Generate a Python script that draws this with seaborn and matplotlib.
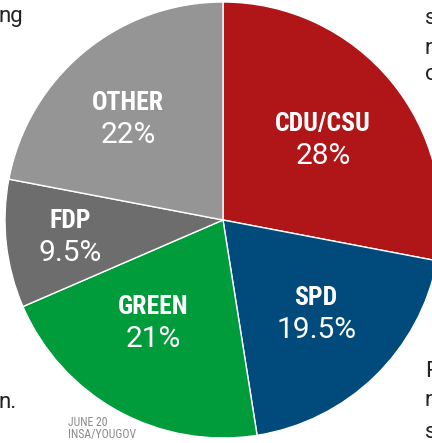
import numpy as np
import seaborn as sns
import matplotlib.pyplot as plt
from matplotlib import font_manager

# poll data (June 20, INSA/YouGov)
parties = ["CDU/CSU", "SPD", "GREEN", "FDP", "OTHER"]
shares = [28, 19.5, 21, 9.5, 22]
share_labels = ["28%", "19.5%", "21%", "9.5%", "22%"]
colors = ["#B01517", "#004B7B", "#009B3A", "#6D6D6D", "#959595"]

# label placement: distance from centre and small angle nudge per slice
label_dist = [0.587, 0.607, 0.571, 0.706, 0.636]
label_shift = [-1, 0.6, -5.4, 0, 3.6]

sns.set_style("white")
names = {f.name for f in font_manager.fontManager.ttflist}
narrow = next((f for f in ["Roboto Condensed", "Liberation Sans Narrow",
                           "Open Sans Condensed", "Roboto"] if f in names), "DejaVu Sans")
plt.rcParams["font.family"] = ["Roboto", "DejaVu Sans"]

fig = plt.figure(figsize=(4.32, 4.43), dpi=100)
ax = fig.add_axes([0, 0, 1, 1])

wedges, _ = ax.pie(shares, colors=colors, startangle=90, counterclock=False,
                   radius=1, wedgeprops=dict(edgecolor="white", linewidth=1))

off = 16 / 218
for w, name, pct, d, s in zip(wedges, parties, share_labels, label_dist, label_shift):
    ang = np.deg2rad((w.theta1 + w.theta2) / 2 + s)
    x, y = d * np.cos(ang), d * np.sin(ang)
    ax.text(x, y + off, name, ha="center", va="center", color="white",
            fontsize=18.5, fontweight="bold", family=narrow, fontstretch="condensed")
    ax.text(x, y - off, pct, ha="center", va="center", color="white",
            fontsize=21.5, fontweight="normal")

# keep the crop of the original layout
ax.set_aspect("auto")
ax.set_xlim(-223 / 218, 209 / 218)
ax.set_ylim(-223 / 218, 220 / 218)
ax.axis("off")

fig.text(68 / 432, 1 - 441 / 443, "JUNE 20\nINSA/YOUGOV", fontsize=8.5, color="#8A8A8A",
         family=narrow, fontstretch="condensed", linespacing=0.85, va="bottom")

# surrounding article text, cut off by the crop
for xp, yp, t in [(-1, 22, "ng"), (-1, 408, "n."), (425, 24, "s"), (425, 54, "n"),
                  (425, 80, "o"), (425, 377, "P"), (425, 406, "n"), (425, 438, "s")]:
    fig.text(xp / 432, 1 - yp / 443, t, fontsize=16, color="#222222", va="baseline")

fig.savefig("out.png", dpi=100)
